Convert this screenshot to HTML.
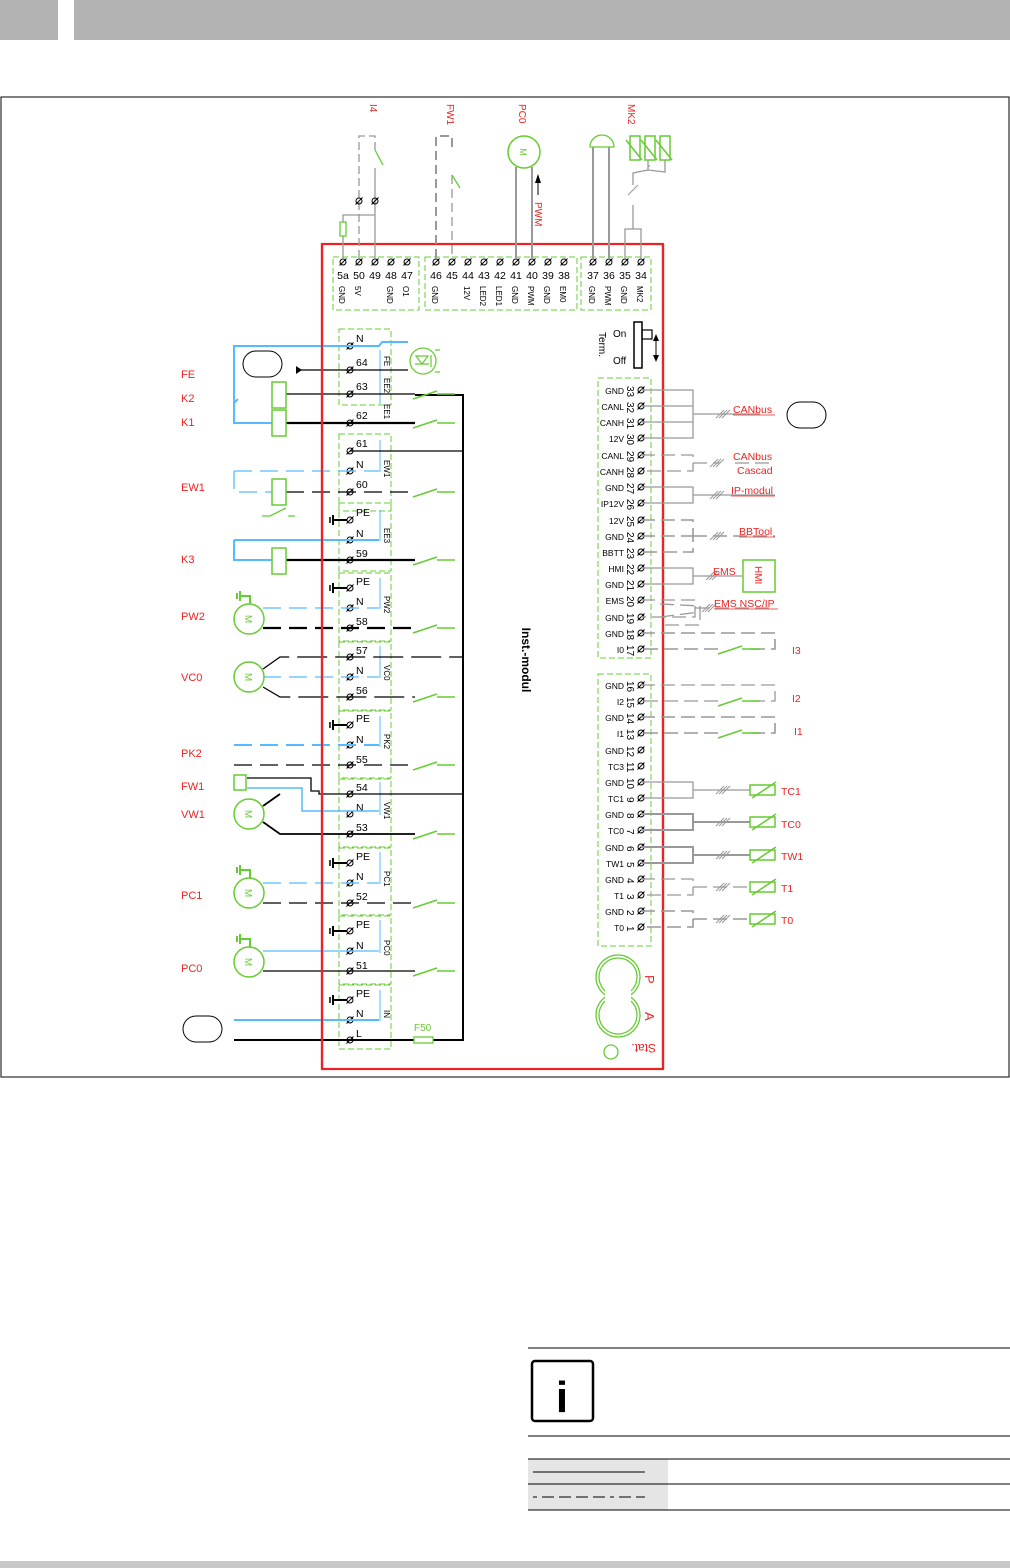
<!DOCTYPE html>
<html><head><meta charset="utf-8"><style>
body{margin:0;background:#fff;width:1010px;height:1568px;overflow:hidden;font-family:"Liberation Sans",sans-serif}
svg{position:absolute;left:0;top:0}
text{font-family:"Liberation Sans",sans-serif}
</style></head><body>
<svg width="1010" height="1568" viewBox="0 0 1010 1568">
<defs>
<g id="t"><circle r="3" fill="none" stroke="#000" stroke-width="1"/><line x1="-3.5" y1="3.5" x2="3.5" y2="-3.5" stroke="#000" stroke-width="1"/></g>
<g id="m"><circle r="15" fill="#fff" stroke="#6c3" stroke-width="1.5"/><text x="0" y="0" font-size="10" fill="#6c3" transform="rotate(90)" text-anchor="middle" dy="4">M</text></g>
<g id="gnd"><line x1="0" y1="0" x2="14" y2="0" stroke="#000" stroke-width="2"/><line x1="0" y1="-5" x2="0" y2="5" stroke="#000" stroke-width="2"/><line x1="-3" y1="-3" x2="-3" y2="3" stroke="#000" stroke-width="1.5"/></g>
<g id="ggnd"><path d="M0 0 V-8 H-10 M-10 -13 V-3 M-13 -11 V-5" fill="none" stroke="#6c3" stroke-width="2"/></g>
<g id="sw"><line x1="0" y1="0" x2="-5" y2="0" stroke="#6c3" stroke-width="1.5"/><line x1="-42" y1="5" x2="-18" y2="-3" stroke="#6c3" stroke-width="1.5"/><line x1="-18" y1="0" x2="-5" y2="0" stroke="#6c3" stroke-width="1.5"/></g>
<g id="ntc"><rect x="0" y="-5" width="25" height="10" fill="none" stroke="#6c3" stroke-width="1.5"/><line x1="2" y1="8" x2="26" y2="-8" stroke="#6c3" stroke-width="1.5"/></g>
<g id="sl"><path d="M-6 4 L2 -4 M-3 4 L5 -4 M0 4 L8 -4" stroke="#999" stroke-width="1"/></g>
</defs>

<rect x="0" y="0" width="58" height="40" fill="#b3b3b3"/>
<rect x="74" y="0" width="936" height="40" fill="#b3b3b3"/>
<rect x="0" y="1561" width="1010" height="7" fill="#c8c8c8"/>

<rect x="1" y="97" width="1008" height="980" fill="none" stroke="#000" stroke-width="1"/>

<rect x="322" y="244" width="341" height="825" fill="none" stroke="#e22" stroke-width="2.2"/>
<text x="522" y="660" font-size="12" font-weight="bold" transform="rotate(90 522 660)" text-anchor="middle">Inst.-modul</text>

<g fill="none" stroke="#6c3" stroke-width="1" stroke-dasharray="6,3">
<rect x="333" y="257" width="86" height="53"/><rect x="425" y="257" width="152" height="53"/><rect x="581" y="257" width="70" height="53"/>
</g>
<g font-size="10.5" text-anchor="middle">
<use href="#t" x="343" y="262"/><text x="343" y="279">5a</text>
<use href="#t" x="359" y="262"/><text x="359" y="279">50</text>
<use href="#t" x="375" y="262"/><text x="375" y="279">49</text>
<use href="#t" x="391" y="262"/><text x="391" y="279">48</text>
<use href="#t" x="407" y="262"/><text x="407" y="279">47</text>
<use href="#t" x="436" y="262"/><text x="436" y="279">46</text>
<use href="#t" x="452" y="262"/><text x="452" y="279">45</text>
<use href="#t" x="468" y="262"/><text x="468" y="279">44</text>
<use href="#t" x="484" y="262"/><text x="484" y="279">43</text>
<use href="#t" x="500" y="262"/><text x="500" y="279">42</text>
<use href="#t" x="516" y="262"/><text x="516" y="279">41</text>
<use href="#t" x="532" y="262"/><text x="532" y="279">40</text>
<use href="#t" x="548" y="262"/><text x="548" y="279">39</text>
<use href="#t" x="564" y="262"/><text x="564" y="279">38</text>
<use href="#t" x="593" y="262"/><text x="593" y="279">37</text>
<use href="#t" x="609" y="262"/><text x="609" y="279">36</text>
<use href="#t" x="625" y="262"/><text x="625" y="279">35</text>
<use href="#t" x="641" y="262"/><text x="641" y="279">34</text>
</g>
<g font-size="8">
<text transform="translate(339,286) rotate(90)">GND</text>
<text transform="translate(355,286) rotate(90)">5V</text>
<text transform="translate(387,286) rotate(90)">GND</text>
<text transform="translate(403,286) rotate(90)">O1</text>
<text transform="translate(432,286) rotate(90)">GND</text>
<text transform="translate(464,286) rotate(90)">12V</text>
<text transform="translate(480,286) rotate(90)">LED2</text>
<text transform="translate(496,286) rotate(90)">LED1</text>
<text transform="translate(512,286) rotate(90)">GND</text>
<text transform="translate(528,286) rotate(90)">PWM</text>
<text transform="translate(544,286) rotate(90)">GND</text>
<text transform="translate(560,286) rotate(90)">EM0</text>
<text transform="translate(589,286) rotate(90)">GND</text>
<text transform="translate(605,286) rotate(90)">PWM</text>
<text transform="translate(621,286) rotate(90)">GND</text>
<text transform="translate(637,286) rotate(90)">MK2</text>
</g>

<g fill="#e22" font-size="10">
<text transform="translate(370,104) rotate(90)">I4</text>
<text transform="translate(447,104) rotate(90)">FW1</text>
<text transform="translate(519,104) rotate(90)">PC0</text>
<text transform="translate(628,104) rotate(90)">MK2</text>
<text transform="translate(535,202) rotate(90)">PWM</text>
</g>
<g fill="none" stroke="#999" stroke-width="1.3">
<path d="M359 258 V136 H375 V150" stroke-dasharray="8,4"/>
<path d="M375 168 V258"/>
<path d="M343 258 V236 M343 222 V215 H375"/>
<path d="M436 258 V136 H452 V150" stroke-width="2" stroke-dasharray="9,5"/>
<path d="M452 175 V258" stroke-dasharray="9,5"/>
<path d="M516 167 V258 M532 167 V258" stroke-width="2"/>
<path d="M593 147 V258 M609 147 V258" stroke-width="2"/>
<path d="M625 258 V229 H641 V258 M633 229 V205 M633 185 V173 L648 170 V160 M648 170 L665 172 V160 M648 166 H650" />
</g>
<line x1="375" y1="150" x2="383" y2="165" stroke="#6c3" stroke-width="1.3"/>
<line x1="452" y1="175" x2="460" y2="188" stroke="#6c3" stroke-width="1.3"/>
<rect x="340" y="222" width="6" height="14" fill="none" stroke="#6c3" stroke-width="1.3"/>
<use href="#t" x="359" y="201"/><use href="#t" x="375" y="201"/>
<circle cx="524" cy="152" r="16" fill="#fff" stroke="#6c3" stroke-width="1.5"/>
<text transform="translate(520,152) rotate(90)" font-size="9" fill="#6c3" text-anchor="middle">M</text>
<path d="M538 195 V176" stroke="#000" stroke-width="1"/><path d="M535 183 L538 174 L541 183Z" fill="#000"/>
<path d="M590 147 A11 11 0 0 1 614 147 Z" fill="none" stroke="#6c3" stroke-width="1.3"/>
<g fill="none" stroke="#6c3" stroke-width="1.5">
<rect x="630" y="136" width="10" height="24"/><rect x="645" y="136" width="10" height="24"/><rect x="660" y="136" width="10" height="24"/>
<path d="M626 140 L642 160 M641 140 L657 160 M656 140 L672 160"/>
</g>
<path d="M628 195 L638 185" stroke="#999"/>

<text x="613" y="337" font-size="10">On</text>
<text x="613" y="364" font-size="10">Off</text>
<text transform="translate(599,332) rotate(90)" font-size="10">Term.</text>
<rect x="634" y="322" width="8" height="46" fill="none" stroke="#000" stroke-width="1.5"/>
<rect x="642" y="330" width="10" height="9" fill="none" stroke="#000" stroke-width="1.2"/>
<line x1="656" y1="336" x2="656" y2="360" stroke="#000"/><path d="M653 341 L656 334 L659 341Z M653 355 L656 362 L659 355Z" fill="#000"/>

<g fill="none" stroke="#6c3" stroke-width="1" stroke-dasharray="6,3">
<rect x="339" y="329" width="52" height="76"/><rect x="339" y="434" width="52" height="77"/>
<rect x="339" y="503" width="52" height="68"/><rect x="339" y="573" width="52" height="68"/>
<rect x="339" y="642" width="52" height="68"/><rect x="339" y="711" width="52" height="67"/>
<rect x="339" y="779" width="52" height="68"/><rect x="339" y="848" width="52" height="67"/>
<rect x="339" y="916" width="52" height="68"/><rect x="339" y="985" width="52" height="64"/>
</g>
<g stroke="#5bf" stroke-width="1">
<line x1="380" y1="350" x2="380" y2="404"/><line x1="380" y1="440" x2="380" y2="472"/><line x1="380" y1="510" x2="380" y2="541"/>
<line x1="380" y1="578" x2="380" y2="609"/><line x1="380" y1="646" x2="380" y2="678"/><line x1="380" y1="716" x2="380" y2="747"/>
<line x1="380" y1="782" x2="380" y2="815"/><line x1="380" y1="852" x2="380" y2="884"/><line x1="380" y1="920" x2="380" y2="953"/><line x1="380" y1="990" x2="380" y2="1021"/>
</g>
<g font-size="8">
<text transform="translate(384,356) rotate(90)">FE</text><text transform="translate(384,378) rotate(90)">EE2</text><text transform="translate(384,404) rotate(90)">EE1</text>
<text transform="translate(384,460) rotate(90)">EW1</text><text transform="translate(384,528) rotate(90)">EE3</text><text transform="translate(384,596) rotate(90)">PW2</text>
<text transform="translate(384,665) rotate(90)">VC0</text><text transform="translate(384,734) rotate(90)">PK2</text><text transform="translate(384,802) rotate(90)">VW1</text>
<text transform="translate(384,871) rotate(90)">PC1</text><text transform="translate(384,940) rotate(90)">PC0</text><text transform="translate(384,1010) rotate(90)">IN</text>
</g>
<g font-size="10.5">
<use href="#t" x="350" y="346"/><text x="356" y="342">N</text>
<use href="#t" x="350" y="370"/><text x="356" y="366">64</text>
<use href="#t" x="350" y="394"/><text x="356" y="390">63</text>
<use href="#t" x="350" y="423"/><text x="356" y="419">62</text>
<use href="#t" x="350" y="451"/><text x="356" y="447">61</text>
<use href="#t" x="350" y="471"/><text x="356" y="468">N</text>
<use href="#t" x="350" y="492"/><text x="356" y="488">60</text>
<use href="#t" x="350" y="520"/><text x="356" y="516">PE</text>
<use href="#t" x="350" y="540"/><text x="356" y="537">N</text>
<use href="#t" x="350" y="560"/><text x="356" y="557">59</text>
<use href="#t" x="350" y="588"/><text x="356" y="585">PE</text>
<use href="#t" x="350" y="608"/><text x="356" y="605">N</text>
<use href="#t" x="350" y="628"/><text x="356" y="625">58</text>
<use href="#t" x="350" y="657"/><text x="356" y="654">57</text>
<use href="#t" x="350" y="677"/><text x="356" y="674">N</text>
<use href="#t" x="350" y="697"/><text x="356" y="694">56</text>
<use href="#t" x="350" y="725"/><text x="356" y="722">PE</text>
<use href="#t" x="350" y="745"/><text x="356" y="743">N</text>
<use href="#t" x="350" y="765"/><text x="356" y="763">55</text>
<use href="#t" x="350" y="794"/><text x="356" y="791">54</text>
<use href="#t" x="350" y="814"/><text x="356" y="811">N</text>
<use href="#t" x="350" y="834"/><text x="356" y="831">53</text>
<use href="#t" x="350" y="863"/><text x="356" y="860">PE</text>
<use href="#t" x="350" y="883"/><text x="356" y="880">N</text>
<use href="#t" x="350" y="903"/><text x="356" y="900">52</text>
<use href="#t" x="350" y="931"/><text x="356" y="928">PE</text>
<use href="#t" x="350" y="951"/><text x="356" y="949">N</text>
<use href="#t" x="350" y="971"/><text x="356" y="969">51</text>
<use href="#t" x="350" y="1000"/><text x="356" y="997">PE</text>
<use href="#t" x="350" y="1020"/><text x="356" y="1017">N</text>
<use href="#t" x="350" y="1040"/><text x="356" y="1037">L</text>
</g>
<use href="#gnd" x="333" y="520"/><use href="#gnd" x="333" y="588"/><use href="#gnd" x="333" y="725"/>
<use href="#gnd" x="333" y="863"/><use href="#gnd" x="333" y="931"/><use href="#gnd" x="333" y="1000"/>

<g fill="none" stroke-width="1.3">
<path d="M234 394 V346 H379 L382 342 H408" stroke="#5bf" stroke-width="2"/>
<path d="M299 370 H408" stroke="#000"/>
<path d="M234 394 V423 H272 M238 399 L234 403" stroke="#5bf" stroke-width="2"/>
<path d="M286 394 H415" stroke="#000"/>
<path d="M286 423 H415" stroke="#000" stroke-width="2.2"/>
<path d="M350 451 H463" stroke="#000"/>
<path d="M234 471 V492 H272 M234 471 H379" stroke="#5bf" stroke-dasharray="18,8"/>
<path d="M286 492 H415" stroke="#000" stroke-dasharray="18,8"/>
<path d="M234 540 V560 H272 M234 540 H379" stroke="#5bf" stroke-width="2"/>
<path d="M286 560 H415" stroke="#000" stroke-width="2.2"/>
<path d="M263 608 H379" stroke="#5bf" stroke-dasharray="18,8"/>
<path d="M263 628 H415" stroke="#000" stroke-width="2.2" stroke-dasharray="18,8"/>
<path d="M263 669 L280 657 H463" stroke="#000" stroke-dasharray="30,8"/>
<path d="M263 677 H379" stroke="#5bf" stroke-dasharray="18,8"/>
<path d="M263 687 L280 697 H415" stroke="#000" stroke-dasharray="30,8"/>
<path d="M234 745 H379" stroke="#5bf" stroke-width="2" stroke-dasharray="18,8"/>
<path d="M234 765 H415" stroke="#000" stroke-dasharray="18,8"/>
<path d="M247 778 H311 V791 H319 V794 H463" stroke="#000"/>
<path d="M247 788 H302 V811 H379" stroke="#5bf" stroke-width="1.5"/>
<path d="M263 806 L280 794 M263 822 L280 834 H415" stroke="#000" stroke-width="1.8"/>
<path d="M263 883 H379" stroke="#5bf" stroke-dasharray="18,8"/>
<path d="M263 903 H415" stroke="#000" stroke-dasharray="18,8"/>
<path d="M263 951 H379" stroke="#5bf"/>
<path d="M263 971 H415" stroke="#000"/>
<path d="M234 1020 H379" stroke="#5bf" stroke-width="2"/>
<path d="M234 1040 H415 M433 1040 H463 V395 H415" stroke="#000" stroke-width="2"/>
</g>
<path d="M296 366 L302 370 L296 374Z" fill="#000"/>
<line x1="322" y1="244" x2="322" y2="1069" stroke="#e22" stroke-width="2.2"/>
<use href="#sw" x="455" y="394"/><use href="#sw" x="455" y="423"/><use href="#sw" x="455" y="492"/><use href="#sw" x="455" y="560"/>
<use href="#sw" x="455" y="628"/><use href="#sw" x="455" y="697"/><use href="#sw" x="455" y="765"/><use href="#sw" x="455" y="834"/>
<use href="#sw" x="455" y="903"/><use href="#sw" x="455" y="971"/>
<rect x="414" y="1037" width="19" height="6" fill="#fff" stroke="#6c3" stroke-width="1.3"/>
<text x="414" y="1031" font-size="10" fill="#6c3">F50</text>
<circle cx="423" cy="361" r="13" fill="none" stroke="#6c3" stroke-width="1.3"/>
<path d="M416 356 L422 364 L428 356Z M415 364 H429 M431 355 V367 M435 350 H440 M435 372 H440" fill="none" stroke="#6c3" stroke-width="1.2"/>
<g fill="#fff" stroke="#6c3" stroke-width="1.5">
<rect x="272" y="382" width="14" height="26"/><rect x="272" y="410" width="14" height="26"/>
<rect x="272" y="479" width="14" height="26"/><rect x="272" y="548" width="14" height="26"/>
<rect x="234" y="775" width="12" height="15"/>
</g>
<path d="M262 516 H270 L286 508 M288 516 H295" stroke="#6c3" stroke-width="1.3" fill="none"/>
<rect x="243" y="351" width="39" height="26" rx="13" fill="#fff" stroke="#000" stroke-width="1"/>
<rect x="183" y="1016" width="39" height="26" rx="13" fill="#fff" stroke="#000" stroke-width="1"/>
<use href="#m" x="249" y="619"/><use href="#m" x="249" y="677"/><use href="#m" x="249" y="814"/><use href="#m" x="249" y="893"/><use href="#m" x="249" y="962"/>
<use href="#ggnd" x="250" y="604"/><use href="#ggnd" x="250" y="878"/><use href="#ggnd" x="250" y="947"/>
<g fill="#e22" font-size="11">
<text x="181" y="378">FE</text><text x="181" y="402">K2</text><text x="181" y="426">K1</text><text x="181" y="491">EW1</text>
<text x="181" y="563">K3</text><text x="181" y="620">PW2</text><text x="181" y="681">VC0</text><text x="181" y="757">PK2</text>
<text x="181" y="790">FW1</text><text x="181" y="818">VW1</text><text x="181" y="899">PC1</text><text x="181" y="972">PC0</text>
</g>

<g fill="none" stroke="#6c3" stroke-width="1" stroke-dasharray="6,3">
<rect x="598" y="378" width="53" height="280"/><rect x="598" y="674" width="53" height="272"/>
</g>
<g font-size="8.5" text-anchor="end">
<text x="624" y="394">GND</text><text x="624" y="410">CANL</text><text x="624" y="426">CANH</text><text x="624" y="442">12V</text>
<text x="624" y="459">CANL</text><text x="624" y="475">CANH</text><text x="624" y="491">GND</text><text x="624" y="507">IP12V</text>
<text x="624" y="524">12V</text><text x="624" y="540">GND</text><text x="624" y="556">BBTT</text><text x="624" y="572">HMI</text>
<text x="624" y="588">GND</text><text x="624" y="604">EMS</text><text x="624" y="621">GND</text><text x="624" y="637">GND</text><text x="624" y="653">I0</text>
<text x="624" y="689">GND</text><text x="624" y="705">I2</text><text x="624" y="721">GND</text><text x="624" y="737">I1</text>
<text x="624" y="754">GND</text><text x="624" y="770">TC3</text><text x="624" y="786">GND</text><text x="624" y="802">TC1</text>
<text x="624" y="818">GND</text><text x="624" y="834">TC0</text><text x="624" y="851">GND</text><text x="624" y="867">TW1</text>
<text x="624" y="883">GND</text><text x="624" y="899">T1</text><text x="624" y="915">GND</text><text x="624" y="931">T0</text>
</g>
<g font-size="10">
<text transform="translate(627,386) rotate(90)">33</text><text transform="translate(627,402) rotate(90)">32</text><text transform="translate(627,418) rotate(90)">31</text><text transform="translate(627,434) rotate(90)">30</text>
<text transform="translate(627,451) rotate(90)">29</text><text transform="translate(627,467) rotate(90)">28</text><text transform="translate(627,483) rotate(90)">27</text><text transform="translate(627,499) rotate(90)">26</text>
<text transform="translate(627,516) rotate(90)">25</text><text transform="translate(627,532) rotate(90)">24</text><text transform="translate(627,548) rotate(90)">23</text><text transform="translate(627,564) rotate(90)">22</text>
<text transform="translate(627,580) rotate(90)">21</text><text transform="translate(627,596) rotate(90)">20</text><text transform="translate(627,613) rotate(90)">19</text><text transform="translate(627,629) rotate(90)">18</text><text transform="translate(627,645) rotate(90)">17</text>
<text transform="translate(627,681) rotate(90)">16</text><text transform="translate(627,697) rotate(90)">15</text><text transform="translate(627,713) rotate(90)">14</text><text transform="translate(627,729) rotate(90)">13</text>
<text transform="translate(627,746) rotate(90)">12</text><text transform="translate(627,762) rotate(90)">11</text><text transform="translate(627,778) rotate(90)">10</text><text transform="translate(627,797) rotate(90)">9</text>
<text transform="translate(627,813) rotate(90)">8</text><text transform="translate(627,829) rotate(90)">7</text><text transform="translate(627,846) rotate(90)">6</text><text transform="translate(627,862) rotate(90)">5</text>
<text transform="translate(627,878) rotate(90)">4</text><text transform="translate(627,894) rotate(90)">3</text><text transform="translate(627,910) rotate(90)">2</text><text transform="translate(627,926) rotate(90)">1</text>
</g>
<g>
<use href="#t" x="641" y="390"/><use href="#t" x="641" y="406"/><use href="#t" x="641" y="422"/><use href="#t" x="641" y="438"/>
<use href="#t" x="641" y="455"/><use href="#t" x="641" y="471"/><use href="#t" x="641" y="487"/><use href="#t" x="641" y="503"/>
<use href="#t" x="641" y="520"/><use href="#t" x="641" y="536"/><use href="#t" x="641" y="552"/><use href="#t" x="641" y="568"/>
<use href="#t" x="641" y="584"/><use href="#t" x="641" y="600"/><use href="#t" x="641" y="617"/><use href="#t" x="641" y="633"/><use href="#t" x="641" y="649"/>
<use href="#t" x="641" y="685"/><use href="#t" x="641" y="701"/><use href="#t" x="641" y="717"/><use href="#t" x="641" y="733"/>
<use href="#t" x="641" y="750"/><use href="#t" x="641" y="766"/><use href="#t" x="641" y="782"/><use href="#t" x="641" y="798"/>
<use href="#t" x="641" y="814"/><use href="#t" x="641" y="830"/><use href="#t" x="641" y="847"/><use href="#t" x="641" y="863"/>
<use href="#t" x="641" y="879"/><use href="#t" x="641" y="895"/><use href="#t" x="641" y="911"/><use href="#t" x="641" y="927"/>
</g>
<line x1="663" y1="244" x2="663" y2="1069" stroke="#e22" stroke-width="2.2"/>
<g fill="none" stroke="#999" stroke-width="1.3">
<path d="M641 390 H693 V438 H641 M641 406 H693 M641 422 H693 M693 414 H760"/>
<path d="M641 455 H693 V471 H641 M693 463 H720 M735 463 H775" stroke-dasharray="14,6"/>
<path d="M641 487 H693 V503 H641 M693 495 H775"/>
<path d="M641 520 H693 V552 H641 M641 536 H693 M693 536 H775" stroke-dasharray="14,6" stroke-width="1.6"/>
<path d="M641 568 H693 V584 H641 M693 576 H742"/>
<path d="M641 600 H695 V617 H641 M695 608 H775 M660 604 L700 606 M660 617 L700 612 M700 606 V625 H665" stroke-dasharray="14,6"/>
<path d="M641 633 H775 V649 H745 M718 649 H641" stroke-dasharray="14,6" stroke-width="1.6"/>
<path d="M641 685 H775 V701 H745 M718 701 H641" stroke-dasharray="14,6"/>
<path d="M641 717 H775 V733 H745 M718 733 H641" stroke-dasharray="14,6" stroke-width="1.6"/>
<path d="M641 782 H693 V798 H641 M693 790 H750"/>
<path d="M641 814 H693 V830 H641 M693 822 H750" stroke-width="2"/>
<path d="M641 847 H693 V863 H641 M693 855 H750" stroke-width="2"/>
<path d="M641 879 H693 V895 H641 M693 887 H750" stroke-dasharray="14,6"/>
<path d="M641 911 H693 V927 H641 M693 919 H750" stroke-dasharray="14,6" stroke-width="1.6"/>
</g>
<use href="#sl" x="722" y="414"/><use href="#sl" x="716" y="463"/><use href="#sl" x="716" y="495"/><use href="#sl" x="716" y="536"/>
<use href="#sl" x="712" y="576"/><use href="#sl" x="708" y="608"/><use href="#sl" x="722" y="790"/><use href="#sl" x="722" y="822"/>
<use href="#sl" x="722" y="855"/><use href="#sl" x="722" y="887"/><use href="#sl" x="722" y="919"/>
<use href="#sw" x="760" y="649"/><use href="#sw" x="760" y="701"/><use href="#sw" x="760" y="733"/>
<use href="#ntc" x="750" y="790"/><use href="#ntc" x="750" y="822"/><use href="#ntc" x="750" y="855"/><use href="#ntc" x="750" y="887"/><use href="#ntc" x="750" y="919"/>
<rect x="743" y="560" width="32" height="32" fill="#fff" stroke="#6c3" stroke-width="1.5"/>
<text transform="translate(755,566) rotate(90)" font-size="10" fill="#e22">HMI</text>
<rect x="787" y="402" width="39" height="26" rx="13" fill="#fff" stroke="#000"/>
<g fill="#e22" font-size="10.5">
<text x="733" y="413">CANbus</text><text x="733" y="460">CANbus</text><text x="737" y="474">Cascad</text>
<text x="731" y="494">IP-modul</text><text x="739" y="535">BBTool</text><text x="713" y="575">EMS</text><text x="714" y="607">EMS NSC/IP</text>
<text x="792" y="654">I3</text><text x="792" y="702">I2</text><text x="794" y="735">I1</text>
<text x="781" y="795">TC1</text><text x="781" y="828">TC0</text><text x="781" y="860">TW1</text><text x="781" y="892">T1</text><text x="781" y="924">T0</text>
</g>
<g stroke="#e22" stroke-width="0.8"><line x1="733" y1="415" x2="775" y2="415"/><line x1="731" y1="496" x2="775" y2="496"/><line x1="739" y1="537" x2="775" y2="537"/><line x1="714" y1="609" x2="778" y2="609"/></g>

<g fill="none" stroke="#6c3" stroke-width="1.3">
<circle cx="618" cy="977" r="22"/><circle cx="618" cy="977" r="19"/>
<circle cx="618" cy="1015" r="22"/><circle cx="618" cy="1015" r="19"/>
<circle cx="611" cy="1052" r="7"/>
</g>
<rect x="605" y="990" width="26" height="12" fill="#fff"/>
<g fill="#e22" font-size="13">
<text transform="translate(645,975) rotate(90)">P</text><text transform="translate(645,1012) rotate(90)">A</text><text transform="translate(656,1044) rotate(180)" font-size="12">Stat.</text>
</g>

<line x1="528" y1="1348" x2="1010" y2="1348" stroke="#000"/>
<rect x="532" y="1361" width="61" height="60" rx="3" fill="#fff" stroke="#000" stroke-width="2.5"/>
<text x="562" y="1412" font-size="44" font-weight="bold" text-anchor="middle">i</text>
<line x1="528" y1="1436" x2="1010" y2="1436" stroke="#000"/>
<rect x="528" y="1459" width="140" height="51" fill="#e5e5e5"/>
<line x1="528" y1="1459" x2="1010" y2="1459" stroke="#000"/>
<line x1="528" y1="1484" x2="1010" y2="1484" stroke="#000"/>
<line x1="528" y1="1510" x2="1010" y2="1510" stroke="#000"/>
<line x1="533" y1="1472" x2="645" y2="1472" stroke="#000"/>
<line x1="533" y1="1497" x2="645" y2="1497" stroke="#000" stroke-dasharray="4,5,12,5,12,5,12,5,12,5"/>
</svg>
</body></html>
